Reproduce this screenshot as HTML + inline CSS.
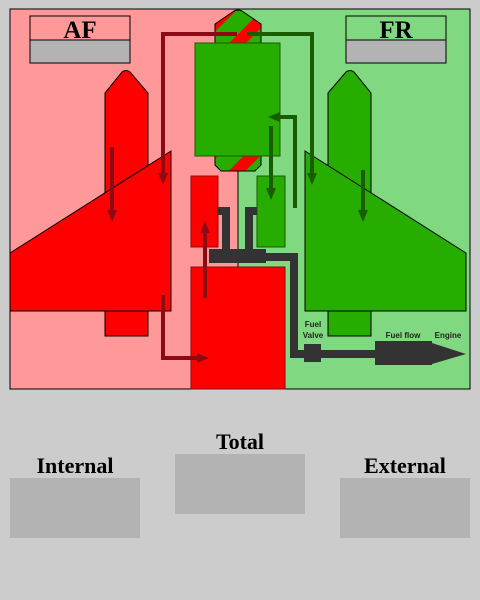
<!DOCTYPE html>
<html><head><meta charset="utf-8"><style>
html,body{margin:0;padding:0;background:#cccccc;}
svg{display:block;}
text{font-family:"Liberation Serif",serif;font-weight:bold;}
text.sm{font-family:"Liberation Sans",sans-serif;font-size:8px;}
</style></head><body>
<svg width="480" height="600" viewBox="0 0 480 600">
<defs>
<pattern id="stripe" patternUnits="userSpaceOnUse" width="30" height="30" patternTransform="rotate(-45 238 20)">
<rect width="30" height="30" fill="#27ad00"/><rect width="30" height="12" fill="#ff0000"/>
</pattern>
<marker id="ar" markerWidth="12" markerHeight="10" refX="4" refY="5" orient="auto" markerUnits="userSpaceOnUse"><path d="M0,0 L12,5 L0,10 z" fill="#8b0a14"/></marker>
<marker id="ag" markerWidth="12" markerHeight="10" refX="4" refY="5" orient="auto" markerUnits="userSpaceOnUse"><path d="M0,0 L12,5 L0,10 z" fill="#1a5c00"/></marker>
</defs>
<rect x="0" y="0" width="480" height="600" fill="#cccccc"/>
<rect x="10" y="9" width="228" height="380" fill="#ff9999"/>
<rect x="238" y="9" width="232" height="380" fill="#80d980"/>
<rect x="10" y="9" width="460" height="380" fill="none" stroke="#000" stroke-width="1"/>
<line x1="238" y1="168" x2="238" y2="267" stroke="#000" stroke-width="1"/>

<g>
<rect x="30" y="16" width="100" height="24" fill="#ff9999" stroke="#000"/>
<rect x="30" y="40" width="100" height="23" fill="#b3b3b3" stroke="#000"/>
<text x="80" y="38" font-size="25" text-anchor="middle">AF</text>
</g>
<g>
<rect x="346" y="16" width="100" height="24" fill="#80d980" stroke="#000"/>
<rect x="346" y="40" width="100" height="23" fill="#b3b3b3" stroke="#000"/>
<text x="396" y="38" font-size="25" text-anchor="middle">FR</text>
</g>

<path d="M105,93 L122,72 Q126,69 130,72 L148,93 L148,336 L105,336 Z" fill="#ff0000" stroke="#000"/>
<path d="M10,253 L171,151 L171,311 L10,311 Z" fill="#ff0000" stroke="#000"/>
<path d="M328,93 L346,72 Q350,69 354,72 L371,93 L371,336 L328,336 Z" fill="#27ad00" stroke="#000"/>
<path d="M466,253 L305,151 L305,311 L466,311 Z" fill="#27ad00" stroke="#000"/>

<path d="M215,24 L234,11 Q238,9 242,11 L261,24 L261,165 L255,171 L221,171 L215,165 Z" fill="url(#stripe)" stroke="#000"/>
<rect x="195" y="43" width="85" height="113" fill="#27ad00" stroke="#1a5c00"/>

<rect x="191" y="176" width="27" height="71" fill="#ff0000" stroke="#8b0a14"/>
<rect x="257" y="176" width="28" height="71" fill="#27ad00" stroke="#1a5c00"/>
<rect x="191" y="267" width="94" height="122" fill="#ff0000" stroke="#8b0a14"/>

<g fill="#333333">
<rect x="218" y="207" width="12" height="8"/>
<rect x="222" y="207" width="8" height="44"/>
<rect x="245" y="207" width="12" height="8"/>
<rect x="245" y="207" width="8" height="44"/>
<rect x="209" y="249" width="57" height="14"/>
<rect x="266" y="253" width="32" height="8"/>
<rect x="290" y="253" width="8" height="105"/>
<rect x="290" y="350" width="90" height="8"/>
<rect x="304" y="344" width="17" height="18"/>
<rect x="375" y="341" width="57" height="24"/>
<path d="M432,343 L466,354 L432,364 Z"/>
</g>
<g fill="#222">
<text class="sm" x="313" y="327" text-anchor="middle">Fuel</text>
<text class="sm" x="313" y="338" text-anchor="middle">Valve</text>
<text class="sm" x="403" y="338" text-anchor="middle">Fuel flow</text>
<text class="sm" x="448" y="338" text-anchor="middle">Engine</text>
</g>

<g fill="none" stroke="#8b0a14" stroke-width="4">
<path d="M237,34 L163,34 L163,177" marker-end="url(#ar)"/>
<path d="M163,295 L163,358 L201,358" marker-end="url(#ar)"/>
<path d="M205,298 L205,229" marker-end="url(#ar)"/>
<path d="M112,147 L112,214" marker-end="url(#ar)"/>
</g>
<g fill="none" stroke="#1a5c00" stroke-width="4">
<path d="M247,34 L312,34 L312,177" marker-end="url(#ag)"/>
<path d="M295,208 L295,117 L276,117" marker-end="url(#ag)"/>
<path d="M271,126 L271,192" marker-end="url(#ag)"/>
<path d="M363,170 L363,214" marker-end="url(#ag)"/>
</g>

<g>
<text x="75" y="473" font-size="22" text-anchor="middle">Internal</text>
<rect x="10" y="478" width="130" height="60" fill="#b3b3b3"/>
</g>
<g>
<text x="240" y="449" font-size="22" text-anchor="middle">Total</text>
<rect x="175" y="454" width="130" height="60" fill="#b3b3b3"/>
</g>
<g>
<text x="405" y="473" font-size="22" text-anchor="middle">External</text>
<rect x="340" y="478" width="130" height="60" fill="#b3b3b3"/>
</g>
</svg>
</body></html>
